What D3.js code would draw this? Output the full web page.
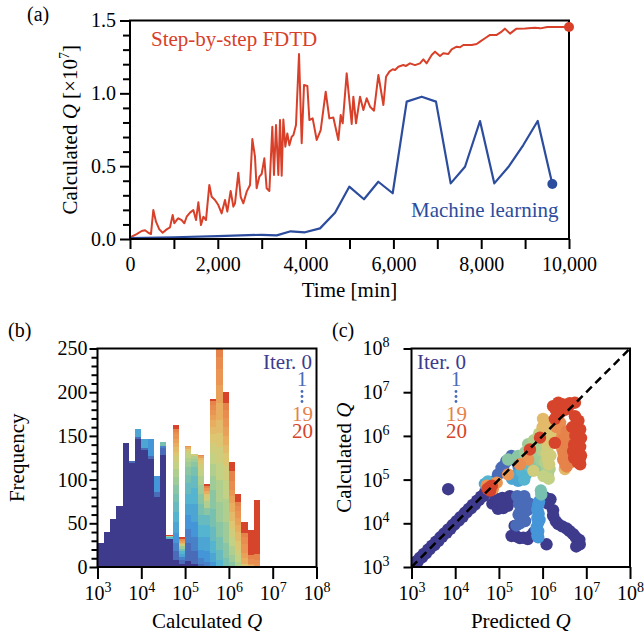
<!DOCTYPE html>
<html>
<head>
<meta charset="utf-8">
<script src="https://cdn.jsdelivr.net/npm/d3@7"></script>
<style>
  body { margin: 0; background: #fff; }
  svg { display: block; }
</style>
</head>
<body>
<svg id="fig" width="644" height="639"></svg>
<script>
// ---------- (a) calculated Q versus elapsed time ----------
// [time (min), Q / 1e7]
const fdtdSeries = [
  [0,0.01],[38,0.016],[152,0.034],[266,0.055],[342,0.06],[418,0.043],[478,0.034],[531,0.199],
  [592,0.119],[668,0.066],[744,0.043],[835,0.066],[911,0.08],[972,0.165],[1010,0.108],[1063,0.13],
  [1101,0.142],[1177,0.13],[1238,0.108],[1291,0.153],[1367,0.181],[1443,0.199],[1504,0.13],[1557,0.252],
  [1617,0.096],[1671,0.153],[1731,0.13],[1807,0.371],[1860,0.29],[1936,0.268],[2012,0.233],[2088,0.176],
  [2164,0.268],[2217,0.188],[2293,0.33],[2354,0.222],[2392,0.245],[2468,0.455],[2521,0.29],[2582,0.245],
  [2658,0.325],[2734,0.371],[2787,0.686],[2847,0.565],[2885,0.348],[2946,0.428],[2999,0.446],[3060,0.554],
  [3113,0.348],[3174,0.33],[3242,0.771],[3280,0.439],[3326,0.783],[3379,0.439],[3417,0.817],[3455,0.435],
  [3493,0.82],[3538,0.634],[3584,0.725],[3630,0.644],[3683,0.702],[3721,0.713],[3781,0.783],[3850,1.27],
  [3911,0.657],[3964,1.057],[4040,1.05],[4086,0.817],[4161,0.828],[4253,0.68],[4344,0.748],[4458,1.011],
  [4541,0.828],[4632,0.834],[4746,0.68],[4799,0.851],[4845,0.794],[4936,1.137],[5050,0.79],[5088,0.977],
  [5149,0.794],[5240,0.977],[5316,0.886],[5392,0.966],[5468,0.908],[5559,0.881],[5658,1.126],[5772,0.92],
  [5832,1.114],[5908,1.149],[5984,1.165],[6037,1.16],[6113,1.183],[6226,1.194],[6287,1.188],[6378,1.206],
  [6492,1.194],[6606,1.206],[6682,1.233],[6758,1.206],[6872,1.263],[6948,1.286],[7061,1.256],[7137,1.275],
  [7251,1.27],[7327,1.302],[7441,1.32],[7517,1.316],[7593,1.332],[7783,1.332],[7897,1.339],[7973,1.355],
  [8087,1.378],[8201,1.401],[8353,1.401],[8467,1.424],[8540,1.444],[8656,1.41],[8804,1.444],[9000,1.445],
  [9226,1.45],[9350,1.446],[9506,1.455],[10000,1.455]
];
const mlSeries = [
  [0,0.006],[1000,0.012],[2000,0.02],[3000,0.029],[3342,0.025],[3661,0.053],[3986,0.046],[4328,0.073],
  [4670,0.18],[4995,0.359],[5330,0.273],[5656,0.393],[5984,0.314],[6303,0.943],[6645,0.977],[6970,0.943],
  [7305,0.382],[7631,0.496],[7973,0.81],[8298,0.382],[8633,0.5],[8959,0.645],[9287,0.81],[9620,0.378]
];
const timeTicks = [0,1000,2000,3000,4000,5000,6000,7000,8000,9000,10000];
const qTicks = [0,0.1,0.2,0.3,0.4,0.5,0.6,0.7,0.8,0.9,1.0,1.1,1.2,1.3,1.4,1.5];

// ---------- (b) histogram of calculated Q, 7 bins per decade from 10^3 ----------
const binsPerDecade = 7;
const histStartExp = 3;
// samples added to each bin, as [iteration, count]
const binAdds = [
  [[0,28]],
  [[0,40]],
  [[0,55]],
  [[0,70]],
  [[0,142]],
  [[0,119],[1,2]],
  [[0,147],[1,2],[4,9]],
  [[0,134],[1,2],[4,10]],
  [[0,124],[1,3],[3,20]],
  [[0,80],[1,6],[3,18]],
  [[0,128],[1,8],[2,2],[7,5]],
  [[0,32],[5,2],[9,2],[20,1]],
  [[0,8],[1,10],[2,10],[3,11],[4,12],[5,12],[6,11],[7,10],[8,10],[9,9],[10,9],[11,8],[12,7],[13,5],[14,5],[15,5],[16,5],[17,5],[18,3],[19,3],[20,4]],
  [[0,4],[1,4],[2,4],[4,3],[5,3],[7,3],[9,3],[12,2],[14,2],[16,2],[18,2],[20,2]],
  [[0,7],[1,20],[2,16],[3,17],[4,12],[5,12],[6,12],[7,9],[8,9],[9,6],[10,5],[11,5],[12,3],[13,2],[15,2],[17,1]],
  [[0,4],[1,14],[2,16],[3,18],[4,20],[5,18],[6,14],[7,10],[8,6],[9,4],[10,3],[12,2]],
  [[1,4],[2,6],[3,10],[4,14],[5,14],[6,12],[7,12],[8,12],[9,10],[10,10],[11,8],[12,6],[13,4],[14,3],[16,2],[18,1]],
  [[2,6],[3,12],[4,16],[5,14],[6,12],[8,8],[10,7],[12,5],[13,3],[15,4],[17,3],[19,3],[20,2]],
  [[3,6],[4,10],[5,14],[6,16],[7,20],[8,22],[9,16],[10,14],[11,12],[12,12],[13,10],[14,8],[15,8],[16,6],[17,6],[18,5],[19,5],[20,2]],
  [[5,8],[6,12],[7,14],[8,18],[9,22],[10,25],[11,20],[12,18],[13,16],[14,15],[15,20],[16,20],[17,18],[18,14],[19,12],[20,8]],
  [[7,10],[8,18],[9,24],[10,26],[11,22],[12,16],[13,14],[14,10],[15,10],[16,10],[17,10],[18,10],[19,8],[20,12]],
  [[8,6],[9,8],[10,10],[11,10],[12,9],[13,10],[14,10],[15,10],[16,8],[17,7],[18,10],[19,12],[20,10]],
  [[10,6],[11,8],[12,6],[13,10],[14,10],[15,8],[16,8],[17,8],[18,6],[19,4],[20,9]],
  [[13,4],[15,6],[16,6],[17,10],[18,8],[19,5],[20,12]],
  [[14,2],[16,2],[18,5],[19,5],[20,28]],
  [[17,3],[18,5],[19,7],[20,62]]
];
const freqTicks = d3.range(0, 251, 10);
const decadeExps = [3,4,5,6,7,8];

// ---------- (c) predicted vs calculated Q ----------
// initial training set, [log10 predicted, log10 calculated]
const trainingDiagonal = [
  [3.00,3.02],[3.05,3.03],[3.10,3.12],[3.14,3.12],[3.19,3.21],[3.24,3.22],[3.28,3.30],[3.33,3.31],
  [3.38,3.40],[3.42,3.41],[3.47,3.49],[3.52,3.50],[3.56,3.58],[3.61,3.59],[3.66,3.68],[3.70,3.69],
  [3.75,3.77],[3.80,3.78],[3.84,3.86],[3.89,3.87],[3.94,3.96],[3.98,3.97],[4.03,4.05],[4.08,4.06],
  [4.12,4.14],[4.17,4.15],[4.22,4.24],[4.26,4.25],[4.31,4.33],[4.36,4.34],[4.40,4.42],[4.45,4.43],
  [4.50,4.52],[4.54,4.53],[4.59,4.61],[4.64,4.62],[4.68,4.70],[4.72,4.71]
];
// [iteration, log10 predicted, log10 calculated]
const scatterRows = [
  [0,3.84,4.78],
  [0,4.85,4.45],[0,4.93,4.56],[0,5.00,4.47],[0,5.08,4.58],[0,5.15,4.50],[0,5.20,4.40],[0,4.98,4.33],[0,5.10,4.35],
  [0,5.25,4.62],[0,5.32,4.55],
  [0,5.29,3.71],[0,5.36,3.94],[0,5.40,3.70],[0,5.48,3.66],[0,5.56,3.67],[0,5.66,3.64],[0,5.74,3.72],[0,5.80,3.79],
  [0,6.05,4.60],[0,6.12,4.45],[0,6.18,4.55],[0,6.24,4.30],[0,6.24,4.17],[0,6.30,4.05],[0,6.36,3.98],[0,6.45,3.93],
  [0,6.55,3.88],[0,6.62,3.82],[0,6.70,3.75],[0,6.76,3.68],[0,6.84,3.62],[0,6.85,3.52],[0,6.77,3.47],[0,6.09,3.52],
  [1,5.42,4.62],[1,5.50,4.55],[1,5.58,4.62],[1,5.46,4.45],[1,5.55,4.40],[1,5.62,4.50],[1,5.50,4.30],[1,5.58,4.25],
  [1,5.45,4.20],[1,5.52,4.12],[1,5.60,4.05],[1,5.48,4.00],[1,5.40,3.95],[1,5.65,4.30],[1,5.70,4.45],
  [1,4.98,5.12],[1,5.06,5.27],[1,5.17,5.42],[1,5.29,5.54],[1,4.92,4.98],[1,5.10,5.30],
  [2,5.45,5.30],[2,5.35,5.45],[2,5.52,5.42],
  [3,5.88,3.72],[3,5.90,3.82],[3,5.87,3.92],[3,5.90,4.02],[3,5.88,4.12],[3,5.91,4.22],[3,5.88,4.32],
  [3,5.90,4.42],[3,5.92,4.50],[3,5.86,3.85],[3,5.93,4.08],[3,5.90,3.68],
  [4,4.68,4.90],[4,5.44,4.97],[4,5.50,5.08],[4,5.38,5.10],[4,5.30,5.02],
  [5,4.75,4.96],[5,5.56,5.20],[5,5.62,5.12],[5,5.52,5.18],[5,5.58,5.00],
  [6,5.94,5.31],[6,5.90,5.22],[6,5.70,5.30],[6,5.65,5.40],
  [7,5.97,4.66],[7,5.96,4.75],
  [8,5.21,5.46],[8,5.44,5.54],[8,5.85,5.50],[8,6.12,5.10],[8,6.08,5.20],[8,5.85,5.35],[8,5.70,5.52],
  [9,5.67,5.81],[9,5.94,5.85],[9,6.01,5.54],[9,6.09,5.28],[9,5.80,5.60],[9,5.90,5.70],[9,5.95,5.45],[9,5.60,5.62],
  [10,6.16,5.24],[10,6.05,5.40],[10,5.75,5.75],[10,6.00,5.95],[10,6.00,5.65],[10,6.05,5.75],[10,6.10,5.15],[10,5.80,5.90],
  [11,6.02,5.08],[11,6.14,5.02],[11,5.92,6.05],
  [12,5.79,5.20],[12,6.09,5.60],[12,6.12,5.75],[12,6.12,5.45],[12,6.15,5.35],[12,6.18,5.55],
  [13,6.10,5.90],[13,6.14,6.05],[13,6.16,6.20],[13,6.05,6.25],[13,6.20,5.85],[13,6.22,6.00],[13,6.08,6.10],
  [14,6.01,6.39],[14,6.20,6.30],[14,6.51,5.24],[14,6.00,6.20],
  [17,4.72,4.86],[17,4.86,4.78],[17,4.95,4.93],[17,5.21,5.12],[17,5.67,5.46],
  [18,6.32,6.20],[18,6.43,5.94],[18,6.40,6.30],[18,6.45,6.10],[18,5.48,5.35],[18,6.45,5.70],
  [19,6.47,5.46],[19,6.55,5.69],[19,6.50,5.80],[19,6.52,5.35],[19,6.58,5.55],[19,6.60,6.00],[19,6.65,5.40],
  [19,6.48,5.60],[19,6.50,5.95],[19,6.55,6.10],[19,6.60,5.80],[19,6.62,5.50],[19,6.55,5.30],
  [20,6.74,6.45],[20,6.78,6.30],[20,6.76,6.15],[20,6.78,6.07],[20,6.80,5.90],[20,6.81,5.75],[20,6.83,5.60],
  [20,6.85,5.46],[20,6.72,5.50],[20,6.70,5.65],[20,6.72,5.80],[20,6.75,6.00],[20,6.68,6.20],
  [20,6.86,5.35],[20,6.88,5.55],[20,6.86,5.75],[20,6.88,5.95],[20,6.86,6.15],[20,6.82,6.35],[20,6.80,5.40],
  [20,6.24,6.68],[20,6.36,6.76],[20,6.47,6.72],[20,6.58,6.65],[20,6.40,6.53],[20,6.52,6.60],[20,6.62,6.75],
  [20,6.30,6.60],[20,6.28,5.84],[20,4.79,4.82],[20,4.74,4.79],[20,4.84,4.86],[20,4.80,4.75],
  [20,5.71,5.69],[20,5.94,5.96],[20,6.28,6.39],[20,6.51,6.61],[20,6.74,6.76]
];

// ---------- shared styling ----------
const SERIF = "'Liberation Serif', 'Times New Roman', serif";
const iterStops = [0,1,3,5,7,9,11,13,15,17,19,20];
const iterColors = ["#3e3b8d","#4a6cb8","#4596d8","#55b4cf","#78c0b0","#9ecb98","#c2d184","#dcc672","#e8ad5f","#ea9553","#e5834b","#d6452b"];
const iterColor = d3.scaleLinear().domain(iterStops).range(iterColors).interpolate(d3.interpolateRgb);
const RED = "#d8402a", BLUE = "#2c4c9e";

const svg = d3.select("#fig").attr("font-family", SERIF);
svg.append("rect").attr("width", 644).attr("height", 639).attr("fill", "#fff");
const defs = svg.append("defs");

function styleAxis(g) {
  g.select(".domain").remove();
  g.attr("font-family", SERIF).attr("font-size", 20);
  g.selectAll(".tick line").attr("stroke", "#000").attr("stroke-width", 2);
  g.selectAll(".tick text").attr("fill", "#000");
}
function frame(x0, x1, y0, y1) {
  svg.append("rect").attr("x", x0).attr("y", y0).attr("width", x1 - x0).attr("height", y1 - y0)
    .attr("fill", "none").attr("stroke", "#000").attr("stroke-width", 2);
}
function addPanelLabel(text, x, y) {
  svg.append("text").attr("x", x).attr("y", y).attr("font-size", 20).text(text);
}

// ================= panel (a) =================
const xA = d3.scaleLinear().domain([0, 10000]).range([130, 569]);
const yA = d3.scaleLinear().domain([0, 1.5]).range([239, 20.5]);

svg.append("g").attr("transform", `translate(0,${yA(0)})`)
  .call(d3.axisBottom(xA).tickValues(timeTicks).tickSize(10).tickPadding(8)
    .tickFormat(d => d % 2000 === 0 ? d3.format(",")(d) : ""))
  .call(styleAxis);

svg.append("g").attr("transform", `translate(${xA(0)},0)`)
  .call(d3.axisLeft(yA).tickValues(qTicks).tickSize(10).tickPadding(4)
    .tickFormat(d => Math.round(d * 10) % 5 === 0 ? d3.format(".1f")(d) : ""))
  .call(styleAxis)
  .call(g => g.selectAll(".tick line").attr("x2", d => Math.round(d * 10) % 5 === 0 ? -10 : -7));

const lineA = d3.line().x(d => xA(d[0])).y(d => yA(d[1]));
svg.append("path").datum(fdtdSeries).attr("d", lineA).attr("fill", "none")
  .attr("stroke", RED).attr("stroke-width", 2).attr("stroke-linejoin", "round");
svg.append("path").datum(mlSeries).attr("d", lineA).attr("fill", "none")
  .attr("stroke", BLUE).attr("stroke-width", 2.2).attr("stroke-linejoin", "round");

frame(xA(0), xA(10000), yA(1.5), yA(0));

const lastF = fdtdSeries[fdtdSeries.length - 1];
const lastM = mlSeries[mlSeries.length - 1];
svg.append("circle").attr("cx", xA(lastF[0])).attr("cy", yA(lastF[1])).attr("r", 5).attr("fill", RED);
svg.append("circle").attr("cx", xA(lastM[0])).attr("cy", yA(lastM[1])).attr("r", 5).attr("fill", BLUE);

svg.append("text").attr("x", 151).attr("y", 46).attr("font-size", 21).attr("fill", RED).text("Step-by-step FDTD");
svg.append("text").attr("x", 411).attr("y", 217).attr("font-size", 21).attr("fill", BLUE).text("Machine learning");

svg.append("text").attr("x", (xA(0) + xA(10000)) / 2).attr("y", 297).attr("text-anchor", "middle")
  .attr("font-size", 21).text("Time [min]");
{
  const t = svg.append("text").attr("transform", `translate(76.5,${(yA(0) + yA(1.5)) / 2}) rotate(-90)`)
    .attr("text-anchor", "middle").attr("font-size", 21);
  t.append("tspan").text("Calculated ");
  t.append("tspan").attr("font-style", "italic").text("Q");
  t.append("tspan").text(" [\u00d710");
  t.append("tspan").attr("font-size", 14).attr("dy", -8).text("7");
  t.append("tspan").attr("dy", 8).text("]");
}
addPanelLabel("(a)", 27, 21);

// ================= panel (b) =================
const xB = d3.scaleLog().domain([1e3, 1e8]).range([97.5, 316.5]);
const yB = d3.scaleLinear().domain([0, 250]).range([567, 348.5]);

defs.append("clipPath").attr("id", "clipB")
  .append("rect").attr("x", xB(1e3)).attr("y", yB(250)).attr("width", xB(1e8) - xB(1e3)).attr("height", yB(0) - yB(250));

// cumulative counts per bin after each iteration; later iterations drawn first, earlier ones on top
const cumCounts = binAdds.map(adds => d3.range(21).map(k => d3.sum(adds.filter(a => a[0] <= k), a => a[1])));
const binEdge = i => Math.pow(10, histStartExp + i / binsPerDecade);
const histG = svg.append("g").attr("clip-path", "url(#clipB)");
for (let k = 20; k >= 0; k--) {
  histG.append("g").selectAll("rect")
    .data(cumCounts.map((c, i) => ({ i, n: c[k] })).filter(d => d.n > 0))
    .join("rect")
    .attr("x", d => xB(binEdge(d.i)))
    .attr("width", d => xB(binEdge(d.i + 1)) - xB(binEdge(d.i)))
    .attr("y", d => yB(d.n))
    .attr("height", d => yB(0) - yB(d.n))
    .attr("fill", iterColor(k))
    .attr("shape-rendering", "crispEdges");
}

function decadeAxisBottom(scale, y) {
  svg.append("g").attr("transform", `translate(0,${y})`)
    .call(d3.axisBottom(scale).tickValues(decadeExps.map(e => Math.pow(10, e))).tickSize(12).tickFormat(""))
    .call(styleAxis)
    .call(g => g.selectAll(".tick").each(function (d) {
      const t = d3.select(this).append("text").attr("y", 33).attr("text-anchor", "middle")
        .attr("fill", "#000").attr("font-size", 20);
      t.append("tspan").text("10");
      t.append("tspan").attr("font-size", 14).attr("dy", -8).text(Math.round(Math.log10(d)));
    }));
}
decadeAxisBottom(xB, yB(0));

svg.append("g").attr("transform", `translate(${xB(1e3)},0)`)
  .call(d3.axisLeft(yB).tickValues(freqTicks).tickSize(8).tickPadding(2)
    .tickFormat(d => d % 50 === 0 ? d : ""))
  .call(styleAxis)
  .call(g => g.selectAll(".tick line").attr("x2", d => d % 50 === 0 ? -8 : -6));

frame(xB(1e3), xB(1e8), yB(250), yB(0));

{
  const t = svg.append("text").attr("x", (xB(1e3) + xB(1e8)) / 2).attr("y", 628)
    .attr("text-anchor", "middle").attr("font-size", 21);
  t.append("tspan").text("Calculated ");
  t.append("tspan").attr("font-style", "italic").text("Q");
}
svg.append("text").attr("transform", `translate(24,${(yB(0) + yB(250)) / 2}) rotate(-90)`)
  .attr("text-anchor", "middle").attr("font-size", 21).text("Frequency");
addPanelLabel("(b)", 8, 337);

// iteration key: first, second, a vertical ellipsis of dots, then the last two
function iterLegend(xRight) {
  svg.append("text").attr("x", xRight).attr("y", 368.5).attr("text-anchor", "end")
    .attr("font-size", 21).attr("fill", iterColor(0)).text("Iter. 0");
  svg.append("text").attr("x", xRight - 10).attr("y", 386).attr("text-anchor", "middle")
    .attr("font-size", 21).attr("fill", iterColor(1)).text("1");
  svg.append("g").selectAll("circle").data([391.5, 396.5, 401.5]).join("circle")
    .attr("cx", xRight - 10).attr("cy", d => d).attr("r", 1.4).attr("fill", iterColor(1));
  svg.append("text").attr("x", xRight + 1).attr("y", 420.5).attr("text-anchor", "end")
    .attr("font-size", 21).attr("fill", iterColor(19)).text("19");
  svg.append("text").attr("x", xRight + 1).attr("y", 437.5).attr("text-anchor", "end")
    .attr("font-size", 21).attr("fill", iterColor(20)).text("20");
}
iterLegend(312);

// ================= panel (c) =================
const xC = d3.scaleLog().domain([1e3, 1e8]).range([411.5, 630]);
const yC = d3.scaleLog().domain([1e3, 1e8]).range([567, 348.5]);

defs.append("clipPath").attr("id", "clipC")
  .append("rect").attr("x", xC(1e3)).attr("y", yC(1e8)).attr("width", xC(1e8) - xC(1e3)).attr("height", yC(1e3) - yC(1e8));

const pts = trainingDiagonal.map(d => [0, d[0], d[1]]).concat(scatterRows)
  .sort((a, b) => a[0] - b[0]);
const scG = svg.append("g").attr("clip-path", "url(#clipC)");
scG.selectAll("circle").data(pts).join("circle")
  .attr("cx", d => xC(Math.pow(10, d[1])))
  .attr("cy", d => yC(Math.pow(10, d[2])))
  .attr("r", 6.2)
  .attr("fill", d => iterColor(d[0]));

scG.append("line")
  .attr("x1", xC(1e3)).attr("y1", yC(1e3)).attr("x2", xC(1e8)).attr("y2", yC(1e8))
  .attr("stroke", "#000").attr("stroke-width", 2.5).attr("stroke-dasharray", "8,5");

decadeAxisBottom(xC, yC(1e3));

svg.append("g").attr("transform", `translate(${xC(1e3)},0)`)
  .call(d3.axisLeft(yC).tickValues(decadeExps.map(e => Math.pow(10, e))).tickSize(8).tickFormat(""))
  .call(styleAxis)
  .call(g => g.selectAll(".tick").each(function (d) {
    const t = d3.select(this).append("text").attr("x", -22).attr("dy", "0.32em").attr("text-anchor", "end")
      .attr("fill", "#000").attr("font-size", 20);
    t.append("tspan").text("10");
    t.append("tspan").attr("font-size", 14).attr("dy", -8).text(Math.round(Math.log10(d)));
  }));

frame(xC(1e3), xC(1e8), yC(1e8), yC(1e3));

{
  const t = svg.append("text").attr("x", (xC(1e3) + xC(1e8)) / 2).attr("y", 628)
    .attr("text-anchor", "middle").attr("font-size", 21);
  t.append("tspan").text("Predicted ");
  t.append("tspan").attr("font-style", "italic").text("Q");
  const u = svg.append("text").attr("transform", `translate(351,${(yC(1e3) + yC(1e8)) / 2}) rotate(-90)`)
    .attr("text-anchor", "middle").attr("font-size", 21);
  u.append("tspan").text("Calculated ");
  u.append("tspan").attr("font-style", "italic").text("Q");
}
addPanelLabel("(c)", 332, 337);
iterLegend(466);
</script>
</body>
</html>
